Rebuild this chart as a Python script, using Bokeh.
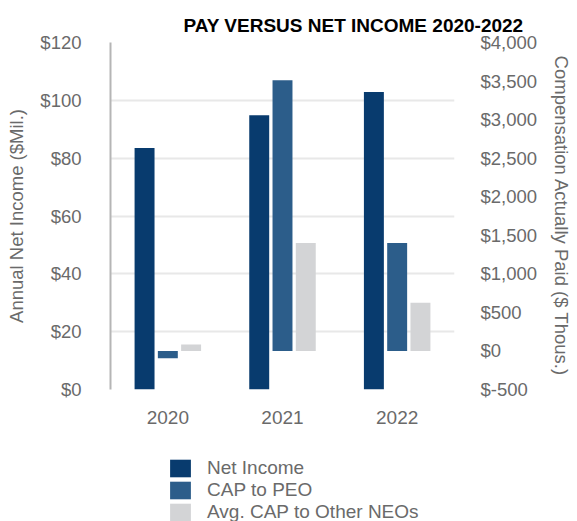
from bokeh.plotting import figure
from bokeh.layouts import column
from bokeh.models import (Range1d, LinearAxis, FixedTicker, Legend, LegendItem,
                          FactorRange, Title, ColumnDataSource)
from bokeh.transform import dodge
from bokeh.embed import file_html
from bokeh.resources import INLINE

years = ["2020", "2021", "2022"]
net_income = [83.5, 94.8, 102.9]          # $ Mil. (left axis)
cap_peo = [-95, 3510, 1400]               # $ Thous. (right axis)
cap_neo = [85, 1400, 625]                 # $ Thous. (right axis)

left_ticks = [0, 20, 40, 60, 80, 100, 120]
left_labels = ["$0", "$20", "$40", "$60", "$80", "$100", "$120"]
right_ticks = [-500, 0, 500, 1000, 1500, 2000, 2500, 3000, 3500, 4000]
right_labels = ["$-500", "$0", "$500", "$1,000", "$1,500", "$2,000",
                "$2,500", "$3,000", "$3,500", "$4,000"]

series_names = ["Net Income", "CAP to PEO", "Avg. CAP to Other NEOs"]
colors = ["#083b6e", "#2c5d8a", "#d3d4d6"]

FONT = "Liberation Sans"
GREY = "#6a6a6a"

src = ColumnDataSource(dict(year=years, ni=net_income, peo=cap_peo, neo=cap_neo))

p = figure(width=577, height=440, x_range=FactorRange(*years),
           y_range=Range1d(0, 120), output_backend="svg", toolbar_location=None,
           min_border_left=110, min_border_right=123, min_border_top=42,
           min_border_bottom=51, title=None)
p.extra_y_ranges = {"right": Range1d(-500, 4000)}
p.outline_line_color = None
p.background_fill_color = "white"
p.border_fill_color = "white"

p.title = Title(text="PAY VERSUS NET INCOME 2020-2022", align="left", offset=73,
                text_font_size="19px", text_font=FONT, text_font_style="bold",
                text_color="black", standoff=13)

w = 0.174
off = 0.203
r1 = p.vbar(x=dodge("year", -off, range=p.x_range), top="ni", bottom=0, width=w,
            source=src, color=colors[0], line_color=None)
r2 = p.vbar(x=dodge("year", 0, range=p.x_range), top="peo", bottom=0, width=w,
            source=src, color=colors[1], line_color=None, y_range_name="right")
r3 = p.vbar(x=dodge("year", off, range=p.x_range), top="neo", bottom=0, width=w,
            source=src, color=colors[2], line_color=None, y_range_name="right")

# grid
p.xgrid.grid_line_color = None
p.ygrid.grid_line_color = "#e8e8e8"
p.ygrid.grid_line_width = 2
p.ygrid.ticker = FixedTicker(ticks=left_ticks)

# left axis
la = p.yaxis[0]
la.ticker = FixedTicker(ticks=left_ticks)
la.major_label_overrides = {t: s for t, s in zip(left_ticks, left_labels)}
la.axis_label = "Annual Net Income ($Mil.)"
la.axis_line_color = "#b5b5b5"
la.axis_line_width = 2
la.major_tick_line_color = None
la.major_tick_out = 0
la.major_tick_in = 0
la.minor_tick_line_color = None
la.major_label_standoff = 29
la.major_label_text_font = FONT
la.major_label_text_font_size = "18.5px"
la.major_label_text_color = GREY
la.axis_label_text_font = FONT
la.axis_label_text_font_size = "18.5px"
la.axis_label_text_font_style = "normal"
la.axis_label_text_color = GREY
la.axis_label_standoff = 10

# right axis
ra = LinearAxis(y_range_name="right", ticker=FixedTicker(ticks=right_ticks))
ra.major_label_overrides = {t: s for t, s in zip(right_ticks, right_labels)}
ra.axis_label = "Compensation Actually Paid ($ Thous.)"
ra.axis_line_color = None
ra.major_tick_line_color = None
ra.major_tick_out = 0
ra.major_tick_in = 0
ra.minor_tick_line_color = None
ra.major_label_standoff = 26
ra.major_label_text_font = FONT
ra.major_label_text_font_size = "18.5px"
ra.major_label_text_color = GREY
ra.axis_label_text_font = FONT
ra.axis_label_text_font_size = "18.5px"
ra.axis_label_text_font_style = "normal"
ra.axis_label_text_color = GREY
ra.axis_label_standoff = 11
p.add_layout(ra, "right")

# bottom axis
xa = p.xaxis[0]
xa.axis_line_color = None
xa.major_tick_line_color = None
xa.major_tick_out = 0
xa.major_tick_in = 0
xa.minor_tick_line_color = None
xa.major_label_standoff = 21
xa.major_label_text_font = FONT
xa.major_label_text_font_size = "19px"
xa.major_label_text_color = GREY

# legend strip below the chart (hidden copies of the series provide the swatches)
lg = figure(width=577, height=81, output_backend="svg", toolbar_location=None,
            min_border=0, x_range=FactorRange(*years), y_range=Range1d(0, 1),
            x_axis_location=None, y_axis_location=None)
lg.grid.visible = False
lg.outline_line_color = None
lg.background_fill_color = "white"
lg.border_fill_color = "white"
lr = [lg.vbar(x="year", top=col, width=w, source=src, color=c, line_color=None,
              visible=False)
      for col, c in zip(["ni", "peo", "neo"], colors)]
legend = Legend(items=[LegendItem(label=n, renderers=[r]) for n, r in zip(series_names, lr)],
                location=(57, -2), orientation="vertical",
                glyph_width=26, glyph_height=22, label_height=20,
                spacing=0, padding=0, margin=0, label_standoff=14,
                label_text_font=FONT, label_text_font_size="19px",
                label_text_color=GREY, border_line_color=None,
                background_fill_alpha=0, inactive_fill_alpha=0)
lg.add_layout(legend, "center")

open("out.html", "w").write(file_html(column(p, lg, spacing=0), INLINE))
